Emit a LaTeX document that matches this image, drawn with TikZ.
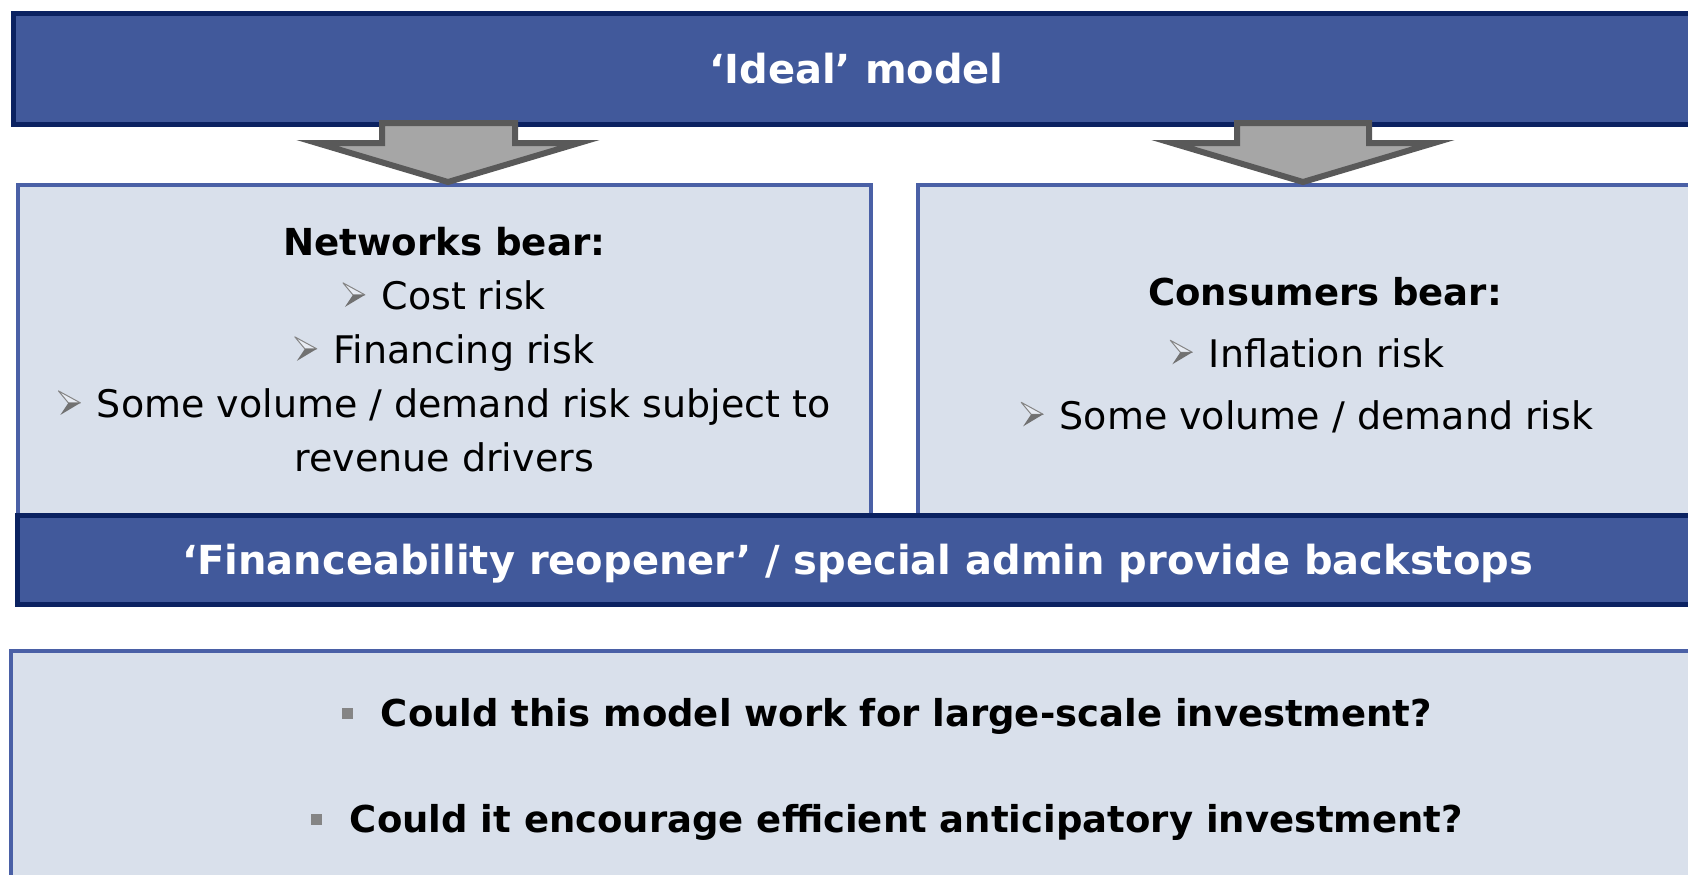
\documentclass[tikz,border=0pt]{standalone}
\usepackage{fontspec}
\setmainfont{DejaVu Sans}
\usetikzlibrary{positioning}

\definecolor{barblue}{HTML}{41599B}
\definecolor{barline}{HTML}{0B2261}
\definecolor{boxfill}{HTML}{D9E0EB}
\definecolor{boxline}{HTML}{4A60A6}
\definecolor{arrowfill}{HTML}{A6A6A6}
\definecolor{arrowline}{HTML}{595959}
\definecolor{bulletgrey}{HTML}{858585}

\newcommand{\arrowbullet}{\tikz[x=1pt, y=1pt, baseline=-1pt, line join=round]{
    \filldraw[draw=bulletgrey, fill=boxfill!60!white, line width=0.5pt]
        (0,12.5) -- (11,6.5) -- (5,6.5) -- cycle;
    \fill[bulletgrey!85!black] (5,6.5) -- (11,6.5) -- (1,0.5) -- cycle;
}\hspace{8pt}}
\newcommand{\squarebullet}{{\color{bulletgrey}\raisebox{4pt}{\rule{5.5pt}{5.5pt}}}\hspace{14pt}}

\tikzset{
    bar/.style={rectangle, draw=barline, fill=barblue, line width=2.5pt, outer sep=0pt,
        text=white, font=\bfseries\fontsize{20}{24}\selectfont},
    riskbox/.style={rectangle, draw=boxline, fill=boxfill, line width=2pt, outer sep=0pt,
        align=center},
    downarrow/.style={draw=arrowline, fill=arrowfill, line width=3pt, line join=miter},
}

\begin{document}
\begin{tikzpicture}[x=0.5pt, y=-0.5pt]
    \useasboundingbox (0,0) rectangle (1688,874);
    \clip (0,0) rectangle (1688,874);

    \node[bar, anchor=north west, minimum width=1687pt/2, minimum height=111pt/2]
        (ideal) at (13,13) {‘Ideal’ model};

    \node[riskbox, anchor=north west, minimum width=853.5pt/2, minimum height=330pt/2,
        font=\fontsize{19}{27}\selectfont]
        (networks) at (17.5,185) {{\bfseries\fontsize{18.6}{27}\selectfont Networks bear:}\\
        \arrowbullet Cost risk\\
        \arrowbullet Financing risk\\
        \arrowbullet Some volume / demand risk subject to\\
        revenue drivers};
    \node[riskbox, anchor=north west, minimum width=814pt/2, minimum height=330pt/2]
        (consumers) at (918,185) {};
    \node[align=center, font=\fontsize{19}{31}\selectfont]
        (consumerstext) at ([yshift=-2.5pt]consumers.center)
        {{\bfseries\fontsize{18.5}{31}\selectfont Consumers bear:}\\
        \arrowbullet Inflation risk\hspace*{18pt}\mbox{}\\
        \arrowbullet Some volume / demand risk\hspace*{18pt}\mbox{}};

    \node[bar, anchor=north west, minimum width=1680pt/2, minimum height=89pt/2,
        text height=16pt, text depth=1.5pt]
        (reopener) at (17.5,515.5) {‘Financeability reopener’ / special admin provide backstops};

    \node[riskbox, anchor=north west, minimum width=1753pt/2, minimum height=238pt/2,
        font=\bfseries\fontsize{18.5}{53}\selectfont]
        (questions) at (10.5,650.5) {\squarebullet Could this model work for large-scale investment?\\
        \squarebullet Could it encourage efficient anticipatory investment?};

    % block arrows from the ideal model down to the two boxes
    \draw[downarrow] (382,123) -- (382,143) -- (317,143) -- (448,182) -- (579,143)
        -- (515,143) -- (515,123) -- cycle;
    \draw[downarrow] (1237,123) -- (1237,143) -- (1172,143) -- (1303,182) -- (1434,143)
        -- (1369,143) -- (1369,123) -- cycle;
\end{tikzpicture}
\end{document}
